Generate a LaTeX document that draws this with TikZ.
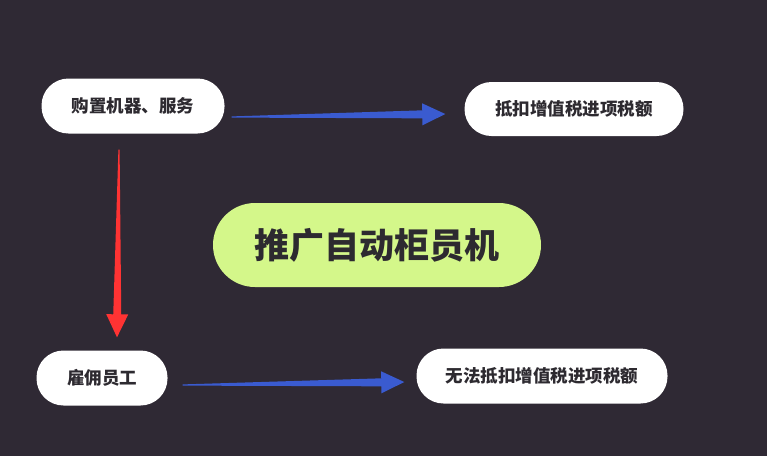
\documentclass[tikz,border=0pt]{standalone}
\usepackage{fontspec}
\newfontfamily\cjk{Noto Sans CJK SC}
\usepackage{tikz}
\usetikzlibrary{calc, positioning}
\definecolor{bgdark}{HTML}{2F2934}
\definecolor{boxtext}{HTML}{2D2A30}
\definecolor{limegreen}{HTML}{D4F78A}
\definecolor{arrowblue}{HTML}{3A5BD0}
\definecolor{arrowred}{HTML}{FF3333}
\tikzset{ pill/.style = {fill=white, rounded corners=27pt, minimum height=55pt, inner sep=0pt, text=boxtext, font=\cjk\bfseries\fontsize{17.5}{19}\selectfont},
          hub/.style = {fill=limegreen, rounded corners=42pt, minimum height=84pt, minimum width=328pt, inner sep=0pt, text=boxtext, font=\cjk\bfseries\fontsize{35}{38}\selectfont} }
% tapered arrow: colour, tail, tip
\newcommand\taperarrow[3]{%
  \coordinate (hb) at ($(#3)!23pt!(#2)$);
  \fill[#1] ($(#2)!0.6pt!90:(#3)$) -- ($(hb)!4pt!90:(#3)$) -- ($(hb)!11pt!90:(#3)$) -- (#3)
     -- ($(hb)!11pt!-90:(#3)$) -- ($(hb)!4pt!-90:(#3)$) -- ($(#2)!0.6pt!-90:(#3)$) -- cycle;}

\begin{document}
\begin{tikzpicture}[x=1pt, y=-1pt]
  \fill[bgdark] (0,0) rectangle (767,456);
  \useasboundingbox (0,0) rectangle (767,456);

  \path (133,106) node[pill, minimum width=183pt] (buy) {购置机器、服务}
        (574,109) node[pill, minimum width=219pt, minimum height=54pt] (deduct) {抵扣增值税进项税额}
        (377,245) node[hub] (atm) {推广自动柜员机}
        (102,378) node[pill, minimum width=131pt] (hire) {雇佣员工}
        (542,376) node[pill, minimum width=251pt] (nodeduct) {无法抵扣增值税进项税额};

  \coordinate (t1) at ([shift={(7,11)}]buy.east);
  \coordinate (p1) at ([shift={(-19,5)}]deduct.west);
  \coordinate (t2) at ([shift={(-14,16)}]buy.south);
  \coordinate (p2) at ([shift={(15,-13)}]hire.north);
  \coordinate (t3) at ([shift={(15,7)}]hire.east);
  \coordinate (p3) at ([shift={(-12,6)}]nodeduct.west);

  \taperarrow{arrowblue}{t1}{p1}
  \taperarrow{arrowred}{t2}{p2}
  \taperarrow{arrowblue}{t3}{p3}
\end{tikzpicture}
\end{document}
